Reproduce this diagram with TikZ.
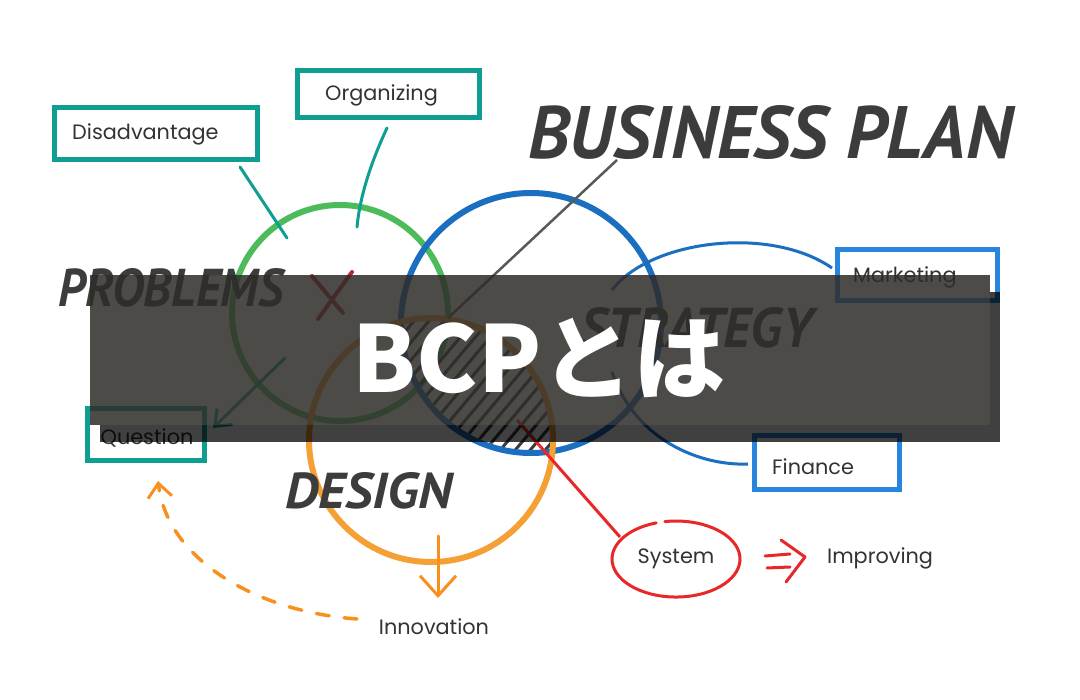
\documentclass[tikz,border=0pt]{standalone}
\usepackage{fontspec}
\usepackage{graphicx}
\setmainfont{Poppins}
\newfontfamily\jp{Noto Sans CJK JP}
\newfontfamily\brush{PT Sans}
\usetikzlibrary{arrows.meta}
\definecolor{tealc}{RGB}{14,158,146}
\definecolor{greenc}{RGB}{76,187,90}
\definecolor{bluec}{RGB}{26,111,192}
\definecolor{blueb}{RGB}{40,133,222}
\definecolor{orangec}{RGB}{245,160,52}
\definecolor{orangea}{RGB}{247,144,30}
\definecolor{redc}{RGB}{232,40,40}
\definecolor{xred}{RGB}{190,40,48}
\definecolor{inkc}{RGB}{60,60,60}
\definecolor{txtc}{RGB}{51,51,51}
\definecolor{bannerc}{RGB}{46,44,41}
\tikzset{
  bigcircle/.style={circle, draw, line width=6pt, inner sep=0pt},
  tbox/.style={draw=tealc, line width=5pt, inner sep=0pt},
  bbox/.style={draw=blueb, line width=5pt, inner sep=0pt},
  lbl/.style={text=txtc, font=\fontsize{20.8}{24}\selectfont, inner sep=0pt},
  brushtxt/.style={text=inkc, inner sep=0pt, anchor=north west},
  tline/.style={draw=tealc, line width=3pt, line cap=round},
  hatchline/.style={draw=inkc, line width=3pt},
}
\begin{document}
\begin{tikzpicture}[x=1pt,y=-1pt]
\useasboundingbox (0,0) rectangle (1080,700);
\fill[white] (0,0) rectangle (1080,700);

% circles
\node[bigcircle, draw=greenc, minimum size=216pt] (green) at (340,313) {};
\node[bigcircle, draw=bluec, minimum size=260pt] (blue) at (531,323) {};
\node[bigcircle, draw=orangec, minimum size=244pt] (orange) at (431,440) {};

% hatch in lens
\begin{scope}
  \clip (531,323) circle[radius=127];
  \clip (431,440) circle[radius=119];
  \foreach \i in {280,295,...,580} {
    \draw[hatchline] (\i,480) -- ++(160,-190);
  }
\end{scope}

% brush titles
\node[brushtxt] (bp) at (528,105) {\resizebox{484pt}{53pt}{\brush\bfseries\itshape BUSINESS PLAN}};
\node[brushtxt] (problems) at (58,268) {\resizebox{225pt}{38pt}{\brush\bfseries\itshape PROBLEMS}};
\node[brushtxt] (strategy) at (580,307) {\resizebox{233pt}{40pt}{\brush\bfseries\itshape STRATEGY}};
\node[brushtxt] (design) at (285,472) {\resizebox{167pt}{36pt}{\brush\bfseries\itshape DESIGN}};

% red X
\draw[xred, line width=4pt, line cap=round] (312,276) -- (343,313);
\draw[xred, line width=4pt, line cap=round] (352,272) -- (318,319);

% teal boxes and labels
\node[tbox, minimum width=203pt, minimum height=52pt] (disbox) at (156,133.5) {};
\node[lbl, anchor=west] (dis) at (72,134) {Disadvantage};
\node[tbox, minimum width=182pt, minimum height=47pt] (orgbox) at (388.5,94) {};
\node[lbl, anchor=west] (org) at (325,95) {Organizing};
\node[tbox, minimum width=117pt, minimum height=52pt] (qbox) at (146,434.5) {};
\node[lbl] (q) at (147,438) {Question};

% blue boxes
\node[bbox, minimum width=160pt, minimum height=51pt] (mbox) at (917.5,275) {};
\node[lbl, anchor=west] (mkt) at (853,277) {Marketing};
\node[bbox, minimum width=145pt, minimum height=54pt] (fbox) at (827,462.5) {};
\node[lbl, anchor=west] (fin) at (772,467) {Finance};

% teal connectors
\coordinate (disEnd) at (287,238);
\coordinate (disStart) at (240,167);
\draw[tline] (disStart) -- (disEnd);
\coordinate (orgStart) at (387,128);
\coordinate (orgEnd) at (357,227);
\draw[tline] (orgStart) .. controls (372,160) and (360,195) .. (orgEnd);
\coordinate (qStart) at (285,358);
\coordinate (qEnd) at (213,428);
\draw[tline, -{Straight Barb[length=14pt,width=22pt,line width=3pt]}] (qStart) -- (qEnd);

% gray line
\coordinate (gStart) at (617,160);
\coordinate (gEnd) at (448,318);
\draw[draw=inkc!85, line width=2.5pt] (gStart) -- (gEnd);

% blue arcs to Marketing and Finance
\coordinate (mArcS) at (612,290);
\coordinate (mArcE) at (832,268);
\draw[bluec, line width=3pt] (mArcS) .. controls (650,240) and (770,225) .. (mArcE);
\coordinate (fArcS) at (612,372);
\coordinate (fArcE) at (748,464);
\draw[bluec, line width=3pt] (fArcS) .. controls (635,440) and (700,466) .. (fArcE);

% red connector and System
\node[lbl] (sys) at (676,559) {System};
\draw[redc, line width=3pt, line cap=round] (sys) ++(-11.1,-37.4) arc[start angle=260, end angle=612, x radius=64, y radius=38];
\coordinate (rStart) at (517,420);
\coordinate (rEnd) at (620,537);
\draw[redc, line width=3pt] (rStart) -- (rEnd);
\node[lbl, anchor=west] (imp) at (827,558) {Improving};
\draw[redc, line width=3pt, line cap=round] (765,556) -- (790,554);
\draw[redc, line width=3pt, line cap=round] (767,568) -- (790,567);
\draw[redc, line width=3pt, line cap=round, line join=round] (781,540) -- (805,557) -- (786,582);

% orange arrow to Innovation
\node[lbl] (innov) at (434,627) {Innovation};
\coordinate (oStart) at (438,536);
\coordinate (oTip) at (438,598);
\draw[orangea, line width=3pt, line cap=round, -{Straight Barb[length=20pt,width=36pt,line width=3pt]}] (oStart) -- (oTip);
\coordinate (dStart) at (357,619);
\coordinate (dTip) at (158,481);
\draw[orangea, line width=3.5pt, line cap=round, dash pattern=on 13pt off 15pt, -{Straight Barb[length=14pt,width=24pt,line width=3pt]}] (dStart) .. controls (260,612) and (168,562) .. (dTip);

% banner
\fill[black, opacity=0.75] (100,425) rectangle (1000,442);
\fill[black, opacity=0.75] (990,292) rectangle (1000,425);
\fill[bannerc, opacity=0.85] (90,275) rectangle (990,425);
\node[text=white, font=\jp\bfseries\fontsize{92}{92}\selectfont, inner sep=0pt] (title) at (539,358) {BCPとは};
\end{tikzpicture}
\end{document}
